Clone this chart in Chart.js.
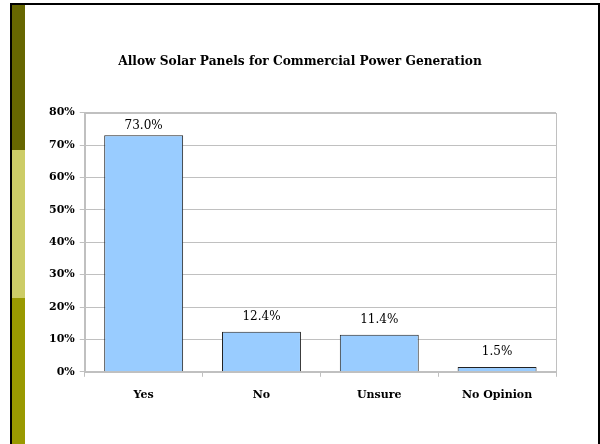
<!DOCTYPE html>
<html>
<head>
<meta charset="utf-8">
<script src="https://cdn.jsdelivr.net/npm/chart.js@4.4.1/dist/chart.umd.min.js"></script>
<style>
  html, body { margin: 0; padding: 0; background: #fff; }
  #page { position: relative; width: 600px; height: 444px; overflow: hidden; }
  /* slide frame + coloured strip on the left */
  #frame { position: absolute; left: 10px; top: 3px; width: 586px; height: 460px;
           border: 2px solid #000; box-sizing: content-box; }
  .strip { position: absolute; left: 12px; width: 13px; }
  #s1 { top: 5px;   height: 145px; background: #666600; }
  #s2 { top: 150px; height: 148px; background: #cccc66; }
  #s3 { top: 298px; height: 146px; background: #999900; }
  #wrap { position: absolute; left: 0; top: 0; width: 600px; height: 444px; }
</style>
</head>
<body>
<div id="page">
  <div id="frame"></div>
  <div class="strip" id="s1"></div>
  <div class="strip" id="s2"></div>
  <div class="strip" id="s3"></div>
  <div id="wrap"><canvas id="chart" width="600" height="444"></canvas></div>
</div>
<script>
  // values
  var categories = ["Yes", "No", "Unsure", "No Opinion"];
  var shares     = [73.0, 12.4, 11.4, 1.5];
  var yTicks     = [0, 10, 20, 30, 40, 50, 60, 70, 80];

  var serif = "'DejaVu Serif', 'Liberation Serif', serif";
  var grey  = "#c0c0c0";

  // gray box round the plot area
  var plotFrame = {
    id: "plotFrame",
    beforeDatasetsDraw: function (chart) {
      var a = chart.chartArea, c = chart.ctx;
      c.save();
      c.strokeStyle = grey;
      c.lineWidth = 1;
      c.strokeRect(Math.round(a.left) + 0.5, Math.round(a.top) + 0.5,
                   Math.round(a.right - a.left), Math.round(a.bottom - a.top));
      c.restore();
    }
  };

  // "73.0%" style labels over each bar, kept inside the plot box like Excel does
  var barLabels = {
    id: "barLabels",
    afterDatasetsDraw: function (chart) {
      var c = chart.ctx;
      var meta = chart.getDatasetMeta(0);
      var top = chart.chartArea.top;
      c.save();
      c.font = "12px " + serif;
      c.fillStyle = "#000";
      c.textAlign = "center";
      c.textBaseline = "middle";
      meta.data.forEach(function (bar, i) {
        var y = Math.max(bar.y - 15, top + 13);
        c.fillText(shares[i].toFixed(1) + "%", bar.x, y);
      });
      c.restore();
    }
  };

  new Chart(document.getElementById("chart"), {
    type: "bar",
    data: {
      labels: categories,
      datasets: [{
        data: shares,
        backgroundColor: "#99ccff",
        borderColor: "#222",
        borderWidth: 1,
        categoryPercentage: 1,
        barPercentage: 0.67
      }]
    },
    options: {
      responsive: false,
      animation: false,
      devicePixelRatio: 1,
      layout: { padding: { left: 44, right: 44, top: 0, bottom: 30 } },
      plugins: {
        legend: { display: false },
        tooltip: { enabled: false },
        title: {
          display: true,
          text: "Allow Solar Panels for Commercial Power Generation",
          color: "#000",
          font: { family: serif, size: 12.2, weight: "bold" },
          padding: { top: 55, bottom: 43 }
        }
      },
      scales: {
        x: {
          grid: { display: true, drawOnChartArea: false, offset: true, tickLength: 5, color: grey },
          border: { color: grey },
          ticks: { color: "#000", padding: 12, font: { family: serif, size: 11, weight: "bold" } }
        },
        y: {
          min: 0,
          max: 80,
          afterBuildTicks: function (axis) {
            axis.ticks = yTicks.map(function (v) { return { value: v }; });
          },
          grid: { color: grey, tickLength: 5 },
          border: { color: grey },
          ticks: {
            color: "#000",
            padding: 5,
            font: { family: serif, size: 11, weight: "bold" },
            callback: function (v) { return v + "%"; }
          }
        }
      }
    },
    plugins: [plotFrame, barLabels]
  });
</script>
</body>
</html>
